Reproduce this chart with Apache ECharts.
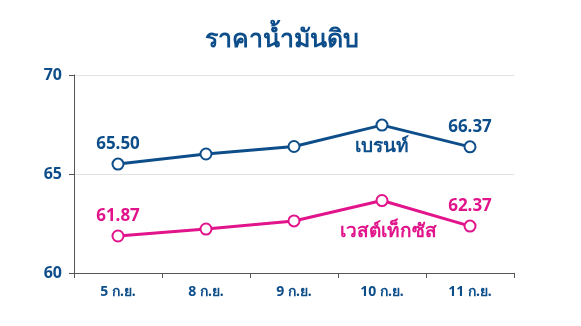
<!DOCTYPE html>
<html><head><meta charset="utf-8">
<script src="https://cdn.jsdelivr.net/npm/echarts@6/dist/echarts.min.js"></script>
<style>html,body{margin:0;padding:0;background:#fff}#c{width:581px;height:326px}</style>
</head><body><div id="c"></div>
<script>
const categories = ['5 ก.ย.', '8 ก.ย.', '9 ก.ย.', '10 ก.ย.', '11 ก.ย.'];
const brent = [65.50, 66.01, 66.39, 67.47, 66.37];
const wti = [61.87, 62.22, 62.63, 63.66, 62.37];
const yTicks = [60, 65, 70];
const seriesNames = ['เบรนท์', 'เวสต์เท็กซัส'];
const title = 'ราคาน้ำมันดิบ';

const BLUE = '#0d4e8a', PINK = '#e2148b';
const FONT = "'Noto Sans', 'Open Sans', sans-serif";
function withEndLabels(arr) {
  return arr.map((v, i) => (i === 0 || i === arr.length - 1)
    ? { value: v, label: { show: true } } : v);
}
const chart = echarts.init(document.getElementById('c'));
chart.setOption({
  animation: false,
  title: { text: title, left: 200, top: 22,
    textStyle: { color: BLUE, fontSize: 25, fontWeight: 'bold', fontFamily: FONT } },
  grid: { left: 74, right: 67, top: 75, bottom: 53 },
  xAxis: { type: 'category', data: categories, boundaryGap: true,
    axisLine: { lineStyle: { color: '#555', width: 1 } },
    axisTick: { show: true, length: 5, lineStyle: { color: '#555' } },
    axisLabel: { color: BLUE, fontSize: 14, fontWeight: 'bold', fontFamily: FONT, margin: 12 } },
  yAxis: { type: 'value', min: yTicks[0], max: yTicks[yTicks.length - 1], interval: 5,
    axisLine: { show: true, lineStyle: { color: '#555' } },
    axisTick: { show: true, length: 5, lineStyle: { color: '#555' } },
    splitLine: { lineStyle: { color: '#e3e3e3' } },
    axisLabel: { color: BLUE, fontSize: 16, fontWeight: 'bold', fontFamily: FONT, margin: 12 } },
  series: [
    { name: seriesNames[0], type: 'line', data: withEndLabels(brent),
      symbol: 'circle', symbolSize: 11,
      itemStyle: { color: '#fff', borderColor: BLUE, borderWidth: 2 },
      lineStyle: { color: BLUE, width: 3 },
      label: { show: false, position: 'top', distance: 5, color: BLUE, fontSize: 17, fontWeight: 'bold', fontFamily: FONT,
        formatter: p => p.value.toFixed(2) },
      markPoint: { symbol: 'circle', symbolSize: 0,
        data: [{ coord: [3, 66.4], label: { show: true, position: 'inside', formatter: seriesNames[0],
          color: BLUE, fontSize: 19, fontWeight: 'bold', fontFamily: FONT } }] } },
    { name: seriesNames[1], type: 'line', data: withEndLabels(wti),
      symbol: 'circle', symbolSize: 11,
      itemStyle: { color: '#fff', borderColor: PINK, borderWidth: 2 },
      lineStyle: { color: PINK, width: 3 },
      label: { show: false, position: 'top', distance: 5, color: PINK, fontSize: 17, fontWeight: 'bold', fontFamily: FONT,
        formatter: p => p.value.toFixed(2) },
      markPoint: { symbol: 'circle', symbolSize: 0,
        data: [{ coord: [3, 62.1], label: { show: true, position: 'inside', offset: [6, 0], formatter: seriesNames[1],
          color: PINK, fontSize: 19, fontWeight: 'bold', fontFamily: FONT } }] } }
  ]
});
</script></body></html>
